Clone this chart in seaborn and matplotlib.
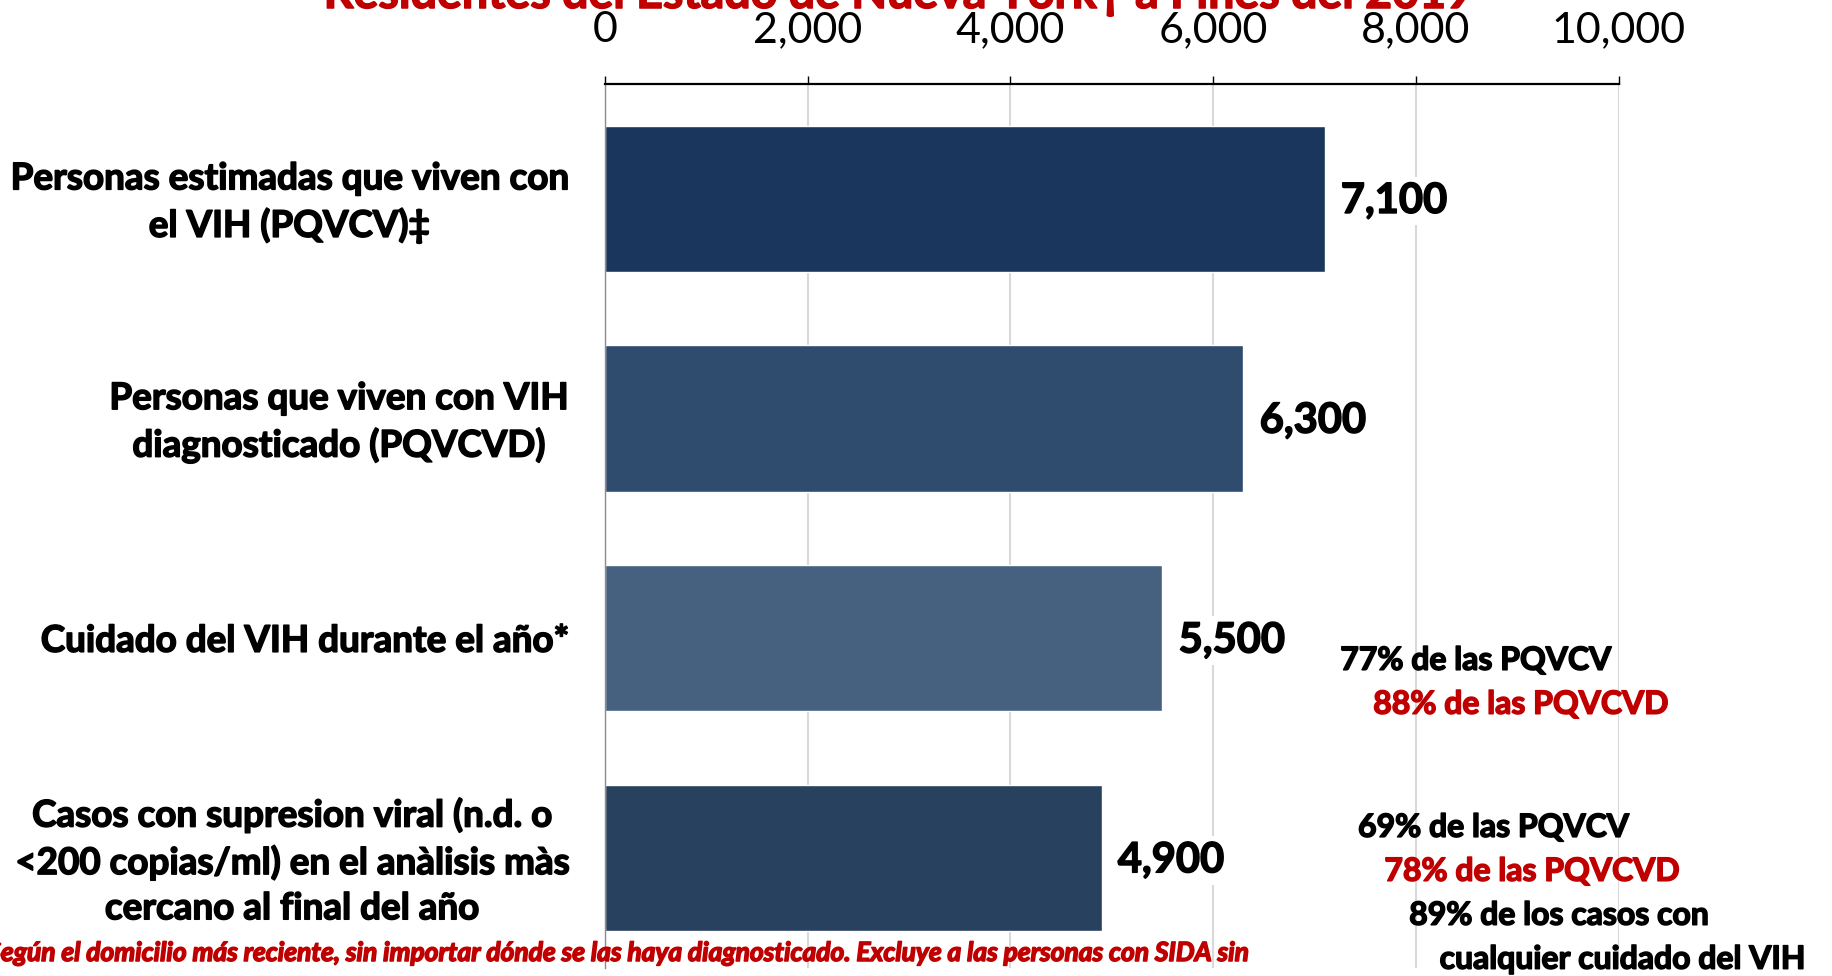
import matplotlib
matplotlib.use("Agg")
import matplotlib.pyplot as plt
import matplotlib.patheffects as pe
import matplotlib.transforms as mtransforms
import seaborn as sns
import pandas as pd

# chart data
categories = [
    "Personas estimadas que viven con\nel VIH (PQVCV)\u2021",
    "Personas que viven con VIH\ndiagnosticado (PQVCVD)",
    "Cuidado del VIH durante el a\u00f1o*",
    "Casos con supresion viral (n.d. o\n<200 copias/ml) en el an\u00e0lisis m\u00e0s\ncercano al final del a\u00f1o",
]
values = [7100, 6300, 5500, 4900]
value_labels = ["7,100", "6,300", "5,500", "4,900"]
bar_colors = ["#1A365D", "#2F4B6E", "#46617F", "#28415F"]
x_ticks = [0, 2000, 4000, 6000, 8000, 10000]
x_ticklabels = ["0", "2,000", "4,000", "6,000", "8,000", "10,000"]

title = "Residentes del Estado de Nueva York\u2020 a Fines del 2019"
footnote = ("\u2020Seg\u00fan el domicilio m\u00e1s reciente, sin importar d\u00f3nde se las haya "
            "diagnosticado. Excluye a las personas con SIDA sin")

# side notes: text, colour, x (data), y (category units)
notes = [
    ("77% de las PQVCV", "black", 7255, 2.10),
    ("88% de las PQVCVD", "#C00000", 7580, 2.30),
    ("69% de las PQVCV", "black", 7430, 2.86),
    ("78% de las PQVCVD", "#C00000", 7690, 3.06),
    ("89% de los casos con", "black", 7935, 3.26),
    ("cualquier cuidado del VIH", "black", 8235, 3.46),
]

df = pd.DataFrame({"cat": categories, "val": values})

sns.set_style("white")
plt.rcParams["font.family"] = ["Lato", "DejaVu Sans"]
plt.rcParams["text.color"] = "black"
plt.rcParams["xtick.color"] = "black"
plt.rcParams["ytick.color"] = "#8C8C8C"
plt.rcParams["ytick.labelcolor"] = "black"


def heavy(color):
    # thicken Lato Bold a little so it looks like the Calibri Bold of the original
    return [pe.withStroke(linewidth=1.1, foreground=color)]


fig = plt.figure(figsize=(18.33, 9.76), dpi=100)
ax = fig.add_axes([0.330, 1 - 968 / 976, 0.553, 884 / 976])

sns.barplot(data=df, x="val", y="cat", hue="cat", palette=bar_colors,
            legend=False, orient="h", width=0.665, saturation=1, ax=ax)

ax.set_xlim(0, 10000)
ax.set_ylim(3.5, -0.522)
ax.set_xlabel("")
ax.set_ylabel("")

# axis on top
ax.xaxis.tick_top()
ax.set_xticks(x_ticks)
ax.set_xticklabels(x_ticklabels, fontsize=31)
ax.tick_params(axis="x", direction="out", length=6, width=1, color="black", pad=19)
ax.tick_params(axis="y", direction="out", length=5, width=1, color="#8C8C8C", pad=22)
ax.set_yticks(range(len(categories)))
ax.set_yticklabels(categories, fontsize=26.5, fontweight="bold", multialignment="center",
                   linespacing=1.45)
lift = mtransforms.ScaledTranslation(0, 4 / 72, fig.dpi_scale_trans)
for t in ax.get_yticklabels():
    t.set_path_effects(heavy("black"))
    if "\n" in t.get_text():
        t.set_transform(t.get_transform() + lift)

ax.grid(axis="x", color="#D9D9D9", linewidth=1.5)
ax.set_axisbelow(True)

for s in ["right", "bottom"]:
    ax.spines[s].set_visible(False)
ax.spines["top"].set_color("black")
ax.spines["top"].set_linewidth(1.6)
ax.spines["left"].set_color("#8C8C8C")
ax.spines["left"].set_linewidth(1)

# value labels
for i, (v, lab) in enumerate(zip(values, value_labels)):
    ax.text(v + 160, i + 0.01, lab, ha="left", va="center", fontsize=30, fontweight="bold",
            bbox=dict(facecolor="white", edgecolor="none", pad=4),
            path_effects=heavy("black"))

for txt, col, x, y in notes:
    ax.text(x, y, txt, color=col, ha="left", va="center", fontsize=23,
            fontweight="bold", clip_on=False, path_effects=heavy(col))

fig.text(0.49, 1 - 8 / 976, title, ha="center", va="baseline", color="#C00000",
         fontsize=33.5, fontweight="bold", path_effects=heavy("#C00000"))
fig.text(-0.0153, 1 - 953 / 976, footnote, ha="left", va="center", color="#C00000",
         fontsize=19, fontweight="bold", fontstyle="italic",
         path_effects=heavy("#C00000"))

fig.savefig("out.png", dpi=100)
